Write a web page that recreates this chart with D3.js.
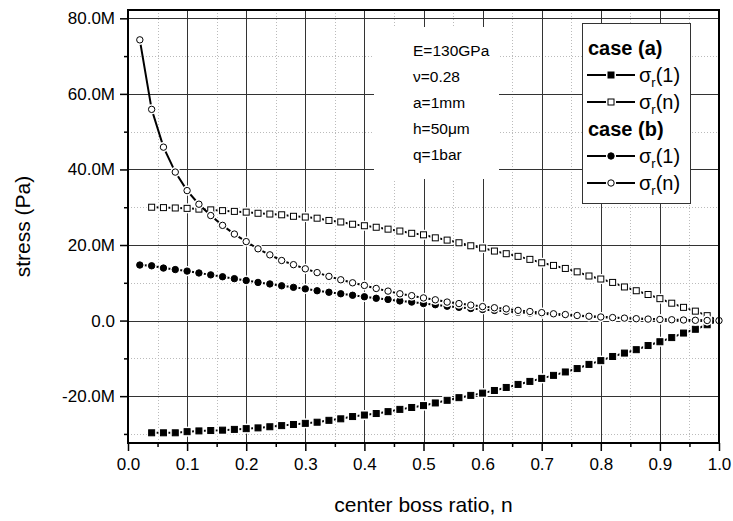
<html>
<head>
<meta charset="utf-8">
<script src="https://d3js.org/d3.v7.min.js"></script>
<style>
	body { margin: 0; background: #fff; }
	text { font-family: Arial, "Liberation Sans", sans-serif; fill: #000; }
</style>
</head>
<body>
<div id="chart"></div>
<script>
// center boss ratio n
var nValues = [0.02,0.04,0.06,0.08,0.10,0.12,0.14,0.16,0.18,0.20,
	0.22,0.24,0.26,0.28,0.30,0.32,0.34,0.36,0.38,0.40,
	0.42,0.44,0.46,0.48,0.50,0.52,0.54,0.56,0.58,0.60,
	0.62,0.64,0.66,0.68,0.70,0.72,0.74,0.76,0.78,0.80,
	0.82,0.84,0.86,0.88,0.90,0.92,0.94,0.96,0.98,1.00]

// stress in MPa, case (a) has no point at n=0.02
var caseA_r1 = [null,-29.7,-29.7,-29.7,-29.4,-29.2,-29.1,-29.0,-28.8,-28.6,
	-28.4,-28.1,-27.8,-27.5,-27.2,-26.9,-26.4,-26.0,-25.4,-25.0,
	-24.6,-24.1,-23.5,-23.0,-22.5,-21.8,-21.1,-20.4,-19.8,-19.2,
	-18.5,-17.7,-16.9,-16.1,-15.3,-14.5,-13.6,-12.7,-11.6,-10.6,
	-9.5,-8.6,-7.7,-6.6,-5.6,-4.5,-3.3,-2.3,-1.1,0]
var caseA_rn = [null,30.0,29.9,29.8,29.7,29.5,29.3,29.1,28.9,28.7,
	28.4,28.2,28.0,27.6,27.4,27.1,26.5,26.1,25.5,25.1,
	24.7,24.2,23.7,23.1,22.7,21.9,21.3,20.6,19.8,19.2,
	18.4,17.7,17.0,16.2,15.3,14.6,13.8,12.9,11.8,11.0,
	10.1,8.9,7.9,6.9,5.8,4.6,3.5,2.5,1.3,0]
var caseB_r1 = [14.7,14.5,13.9,13.5,13.1,12.6,12.1,11.6,11.1,10.6,
	10.1,9.7,9.2,8.8,8.4,7.9,7.5,7.1,6.7,6.3,
	5.9,5.6,5.2,4.9,4.5,4.2,3.8,3.5,3.2,2.95,
	2.7,2.45,2.2,2.0,1.8,1.6,1.4,1.25,1.1,0.95,
	0.8,0.65,0.52,0.42,0.32,0.23,0.15,0.08,0.03,0]
var caseB_rn = [74.3,55.9,45.9,39.3,34.4,30.8,27.8,25.2,22.9,20.9,
	19.0,17.4,15.9,14.8,13.7,12.7,11.7,10.8,10.0,9.3,
	8.5,7.8,7.1,6.6,6.0,5.5,4.9,4.5,4.1,3.7,
	3.4,3.1,2.7,2.4,2.1,1.8,1.6,1.35,1.15,0.95,
	0.8,0.65,0.5,0.4,0.3,0.22,0.15,0.08,0.03,0]

var xTicks = [0,0.1,0.2,0.3,0.4,0.5,0.6,0.7,0.8,0.9,1.0]
var xMinor = [0.05,0.15,0.25,0.35,0.45,0.55,0.65,0.75,0.85,0.95]
var yTicks = [-20,0,20,40,60,80]
var yMinor = [-30,-10,10,30,50,70]

var props = ["E=130GPa", "\u03bd=0.28", "a=1mm", "h=50\u03bcm", "q=1bar"]

var series = [
	{ values: caseA_r1, shape: "square", filled: true },
	{ values: caseA_rn, shape: "square", filled: false },
	{ values: caseB_r1, shape: "circle", filled: true },
	{ values: caseB_rn, shape: "circle", filled: false }
]

var legendRows = [
	{ head: "case (a)" },
	{ shape: "square", filled: true, arg: "(1)" },
	{ shape: "square", filled: false, arg: "(n)" },
	{ head: "case (b)" },
	{ shape: "circle", filled: true, arg: "(1)" },
	{ shape: "circle", filled: false, arg: "(n)" }
]

var W = 733, H = 521
var pLeft = 128, pRight = 719, pTop = 10, pBottom = 443

var x = d3.scaleLinear().domain([0, 1]).range([pLeft, pRight])
var y = d3.scaleLinear().domain([-32.4, 82.2]).range([pBottom, pTop])

var svg = d3.select("#chart").append("svg")
	.attr("width", W)
	.attr("height", H)

// minor dotted grid
svg.append("g").selectAll("line").data(xMinor).enter().append("line")
	.attr("x1", d => Math.round(x(d)) + 0.5).attr("x2", d => Math.round(x(d)) + 0.5)
	.attr("y1", pTop).attr("y2", pBottom)
	.style("stroke", "#bbb").style("stroke-dasharray", "1,2")
svg.append("g").selectAll("line").data(yMinor).enter().append("line")
	.attr("y1", d => Math.round(y(d)) + 0.5).attr("y2", d => Math.round(y(d)) + 0.5)
	.attr("x1", pLeft).attr("x2", pRight)
	.style("stroke", "#bbb").style("stroke-dasharray", "1,2")

// major grid
svg.append("g").selectAll("line").data(xTicks).enter().append("line")
	.attr("x1", d => Math.round(x(d)) + 0.5).attr("x2", d => Math.round(x(d)) + 0.5)
	.attr("y1", pTop).attr("y2", pBottom)
	.style("stroke", "#333")
svg.append("g").selectAll("line").data(yTicks).enter().append("line")
	.attr("y1", d => Math.round(y(d)) + 0.5).attr("y2", d => Math.round(y(d)) + 0.5)
	.attr("x1", pLeft).attr("x2", pRight)
	.style("stroke", "#333")

// white box behind the material properties
svg.append("rect")
	.attr("x", 374).attr("y", 27)
	.attr("width", 125).attr("height", 152)
	.style("fill", "#fff")

svg.append("g").selectAll("text").data(props).enter().append("text")
	.attr("x", 413)
	.attr("y", (d, i) => 56 + i * 26)
	.style("font-size", "15.5px")
	.text(d => d)

// series
var line = d3.line()
	.defined(d => d[1] != null)
	.x(d => x(d[0]))
	.y(d => y(d[1]))

function drawMarker(g, shape, filled, cx, cy) {
	// white halo leaves a small gap in the line around the symbol
	if (shape == "square") {
		g.append("rect").attr("x", cx - 3.5).attr("y", cy - 3.5).attr("width", 7).attr("height", 7)
			.style("fill", "#fff").style("stroke", "#fff").style("stroke-width", 3)
		g.append("rect").attr("x", cx - 3).attr("y", cy - 3).attr("width", 6).attr("height", 6)
			.style("fill", filled ? "#000" : "#fff").style("stroke", "#000").style("stroke-width", 1)
	} else {
		g.append("circle").attr("cx", cx).attr("cy", cy).attr("r", 3.6)
			.style("fill", "#fff").style("stroke", "#fff").style("stroke-width", 3)
		g.append("circle").attr("cx", cx).attr("cy", cy).attr("r", 3.2)
			.style("fill", filled ? "#000" : "#fff").style("stroke", "#000").style("stroke-width", 1)
	}
}

series.forEach(function(s) {
	var pts = nValues.map((n, i) => [n, s.values[i]])
	var g = svg.append("g")
	g.append("path")
		.datum(pts)
		.attr("d", line)
		.style("fill", "none")
		.style("stroke", "#000")
		.style("stroke-width", 2)
	pts.filter(p => p[1] != null).forEach(function(p) {
		drawMarker(g, s.shape, s.filled, x(p[0]), y(p[1]))
	})
})

// frame
svg.append("rect")
	.attr("x", pLeft).attr("y", pTop)
	.attr("width", pRight - pLeft).attr("height", pBottom - pTop)
	.style("fill", "none").style("stroke", "#000").style("stroke-width", 2)

// axes
svg.append("g")
	.attr("transform", "translate(0," + pBottom + ")")
	.call(d3.axisBottom(x).tickValues(xTicks).tickSize(8).tickPadding(7).tickFormat(d => d.toFixed(1)))
svg.append("g")
	.attr("transform", "translate(0," + pBottom + ")")
	.call(d3.axisBottom(x).tickValues(xMinor).tickSize(4).tickFormat(""))
svg.append("g")
	.attr("transform", "translate(" + pLeft + ",0)")
	.call(d3.axisLeft(y).tickValues(yTicks).tickSize(8).tickPadding(5)
		.tickFormat(d => d == 0 ? "0.0" : d.toFixed(1) + "M"))
svg.append("g")
	.attr("transform", "translate(" + pLeft + ",0)")
	.call(d3.axisLeft(y).tickValues(yMinor).tickSize(4).tickFormat(""))

svg.selectAll(".domain").remove()
svg.selectAll(".tick line").style("stroke", "#000").style("stroke-width", 1.5)
svg.selectAll(".tick text")
	.style("font-family", "Arial, 'Liberation Sans', sans-serif")
	.style("font-size", "17px")
	.style("fill", "#000")

// axis titles
svg.append("text")
	.attr("x", (pLeft + pRight) / 2)
	.attr("y", 512)
	.attr("text-anchor", "middle")
	.style("font-size", "21px")
	.text("center boss ratio, n")

svg.append("text")
	.attr("transform", "translate(30," + ((pTop + pBottom) / 2) + ") rotate(-90)")
	.attr("text-anchor", "middle")
	.style("font-size", "21px")
	.text("stress (Pa)")

// legend
var lg = svg.append("g")
lg.append("rect")
	.attr("x", 582.5).attr("y", 23.5)
	.attr("width", 108).attr("height", 180)
	.style("fill", "#fff").style("stroke", "#333").style("stroke-width", 1)

legendRows.forEach(function(r, i) {
	var cy = 48 + i * 27
	if (r.head) {
		lg.append("text")
			.attr("x", 588).attr("y", cy + 7)
			.style("font-size", "20px")
			.style("font-weight", "bold")
			.text(r.head)
	} else {
		lg.append("line")
			.attr("x1", 587).attr("x2", 635)
			.attr("y1", cy).attr("y2", cy)
			.style("stroke", "#000").style("stroke-width", 2)
		drawMarker(lg, r.shape, r.filled, 611, cy)
		var t = lg.append("text")
			.attr("x", 639).attr("y", cy + 7)
			.style("font-size", "20px")
		t.append("tspan").text("\u03c3")
		t.append("tspan").attr("dy", 5).style("font-size", "13px").text("r")
		t.append("tspan").attr("dy", -5).text(r.arg)
	}
})
</script>
</body>
</html>
